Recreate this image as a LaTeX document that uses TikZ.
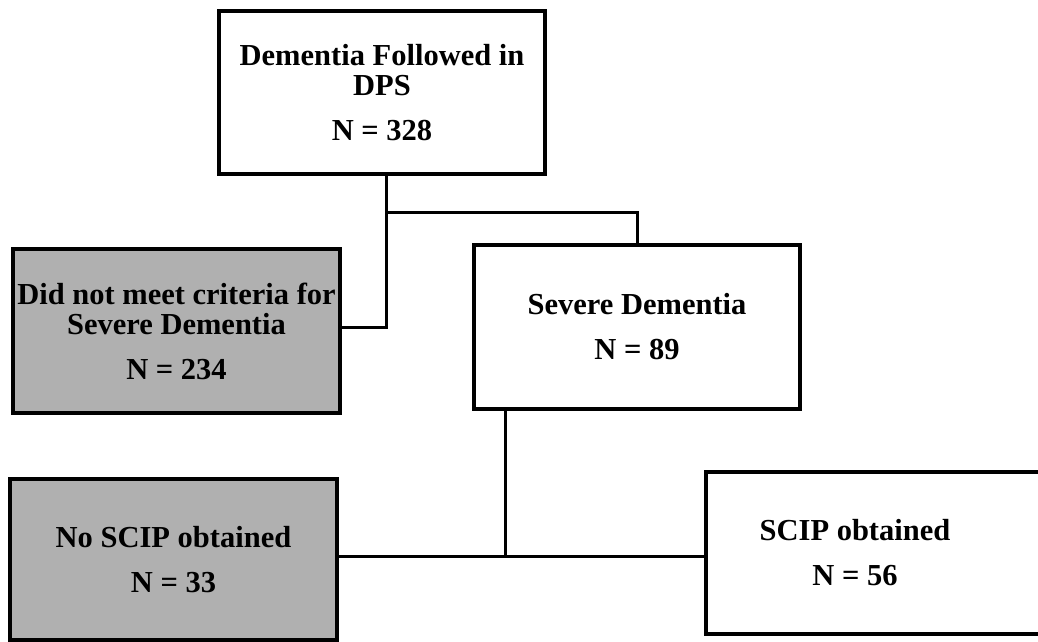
\documentclass[tikz,border=0pt]{standalone}
\usepackage{fontspec}
\setmainfont{Liberation Serif}
\definecolor{boxgrey}{RGB}{176,176,176}
\begin{document}
\begin{tikzpicture}[x=1pt,y=-1pt,
  box/.style={draw=black,line width=3.2pt,minimum width=326pt,minimum height=163pt,
    inner sep=0pt,align=center,font=\bfseries\fontsize{30.5}{30}\selectfont},
  greybox/.style={box,fill=boxgrey},
  lbl/.style={inner sep=0pt,align=center,font=\bfseries\fontsize{30.5}{30}\selectfont},
  conn/.style={draw=black,line width=3pt}]
\useasboundingbox (0,0) rectangle (1038,641);
\clip (0,0) rectangle (1038,641);
\fill[white] (0,0) rectangle (1038,641);
\node[box] (top) at (382,92.5) {Dementia Followed in\\DPS\\[15pt]N = 328};
\node[greybox,minimum width=327pt,minimum height=164pt] (grey1) at (176.5,331) {Did not meet criteria for\\Severe Dementia\\[15pt]N = 234};
\node[box,minimum height=164pt] (severe) at (637,327) {Severe Dementia\\[15pt]N = 89};
\node[greybox,minimum width=327pt,minimum height=161pt] (noscip) at (173.5,559.5) {No SCIP obtained\\[15pt]N = 33};
\node[box,minimum width=340pt,minimum height=162pt] (scip) at (876,553) {};
\node[lbl] (sciptext) at (855,553) {SCIP obtained\\[15pt]N = 56};
\coordinate (j1) at (386,212);
\coordinate (j2) at (505,556);
\draw[conn] (top.south -| j1) -- (j1) -| (severe.north);
\draw[conn] (j1) -- (j1 |- 0,327) -- (grey1.east |- 0,327);
\draw[conn] (severe.south -| j2) -- (j2);
\draw[conn] (noscip.east |- j2) -- (scip.west |- j2);
\end{tikzpicture}
\end{document}
